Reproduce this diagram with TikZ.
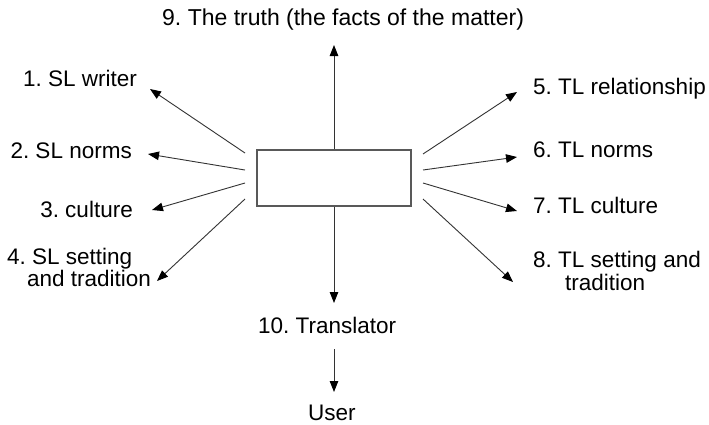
\documentclass[tikz,border=0pt]{standalone}
\usepackage{fontspec}
\setmainfont{Liberation Sans}
\usetikzlibrary{arrows.meta}
\tikzset{
  lab/.style={inner sep=0pt, font=\fontsize{22.5}{23}\selectfont\frenchspacing, text=black},
  arr/.style={draw=black!80, line width=0.9pt, -{Triangle[length=11pt,width=8.5pt,color=black]}},
  centerbox/.style={draw=black!65, line width=1.2pt, minimum width=154pt, minimum height=56pt, inner sep=0pt}
}
\begin{document}
\begin{tikzpicture}[x=1pt,y=-1pt]
\useasboundingbox[fill=white] (0,0) rectangle (709,424);
% central box
\node[centerbox] (box) at (334,178) {};
% labels
\node[lab, anchor=base west, font=\fontsize{23}{24}\selectfont\frenchspacing] (t9) at (162,25) {9. The truth (the facts of the matter)};
\node[lab, anchor=base east] (t1) at (137,86) {1. SL writer};
\node[lab, anchor=base east] (t2) at (132,158) {2. SL norms};
\node[lab, anchor=base east] (t3) at (133,217) {3. culture};
\node[lab, anchor=base west, align=left] (t4) at (7,286) {4. SL setting\\[-1pt]\hspace*{20pt}and tradition};
\node[lab, anchor=base west] (t5) at (533,94) {5. TL relationship};
\node[lab, anchor=base west] (t6) at (533,157) {6. TL norms};
\node[lab, anchor=base west] (t7) at (533,213) {7. TL culture};
\node[lab, anchor=base west, align=left] (t8) at (533,290) {8. TL setting and\\\hspace*{32pt}tradition};
\node[lab, anchor=base west] (t10) at (258,333) {10. Translator};
\node[lab, anchor=base west] (tu) at (308,420) {User};
% connector end points
\coordinate (s1) at (245,153); \coordinate (e1) at (150,89);
\coordinate (s2) at (245,170); \coordinate (e2) at (148,154);
\coordinate (s3) at (245,183); \coordinate (e3) at (152,210);
\coordinate (s4) at (245,199); \coordinate (e4) at (157,281);
\coordinate (s5) at (423,154); \coordinate (e5) at (517,92);
\coordinate (s6) at (423,170); \coordinate (e6) at (517,157);
\coordinate (s7) at (423,183); \coordinate (e7) at (517,211);
\coordinate (s8) at (423,199); \coordinate (e8) at (513,282);
\coordinate (e9) at (334,45);
\coordinate (e10) at (334,303);
\coordinate (s11) at (334,349); \coordinate (e11) at (334,392);
% connectors
\draw[arr] (s1) -- (e1);
\draw[arr] (s2) -- (e2);
\draw[arr] (s3) -- (e3);
\draw[arr] (s4) -- (e4);
\draw[arr] (s5) -- (e5);
\draw[arr] (s6) -- (e6);
\draw[arr] (s7) -- (e7);
\draw[arr] (s8) -- (e8);
\draw[arr] (box.north) -- (e9);
\draw[arr] (box.south) -- (e10);
\draw[arr] (s11) -- (e11);
\end{tikzpicture}
\end{document}
